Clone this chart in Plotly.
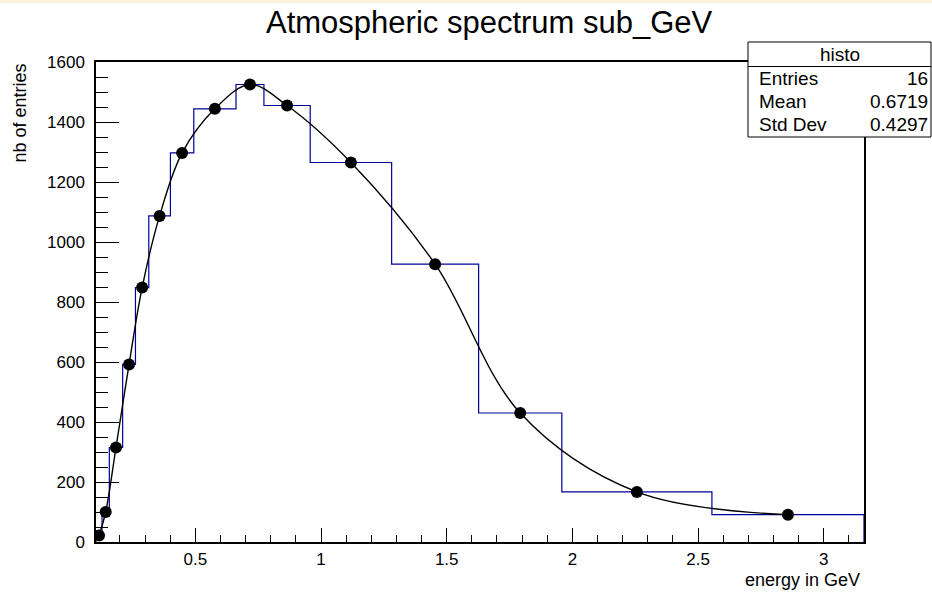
import numpy as np
import plotly.graph_objects as go

# Variable-width energy bins (GeV) and the counts in each bin
bin_edges = [0.105, 0.129, 0.158, 0.211, 0.262, 0.315, 0.401, 0.494, 0.662,
             0.773, 0.957, 1.281, 1.627, 1.958, 2.555, 3.160]
bin_counts = [22, 100, 315, 592, 848, 1087, 1297, 1444, 1525, 1455, 1265,
              926, 430, 167, 91]

# Statistics box content
stats_title = "histo"
stats_names = ["Entries", "Mean", "Std Dev"]
stats_values = ["16", "0.6719", "0.4297"]

x_tick_vals = [0.5, 1, 1.5, 2, 2.5, 3]
x_tick_text = ["0.5", "1", "1.5", "2", "2.5", "3"]
y_tick_vals = [0, 200, 400, 600, 800, 1000, 1200, 1400, 1600]

title_text = "Atmospheric spectrum sub_GeV"
x_title = "energy in GeV"
y_title = "nb of entries"

FONT = "Liberation Sans, Arial, Helvetica, sans-serif"
W, H = 932, 592
ML, MR, MT, MB = 96, 68, 62, 50
PW, PH = W - ML - MR, H - MT - MB


def px(xp):
    """pixel column -> paper x"""
    return (xp - ML) / PW


def py(yp):
    """pixel row -> paper y"""
    return (H - MB - yp) / PH


edges = np.array(bin_edges)
counts = np.array(bin_counts, dtype=float)
centers = 0.5 * (edges[:-1] + edges[1:])

# Step outline of the histogram
step_x = np.repeat(edges, 2)
step_y = np.concatenate([[0.0], np.repeat(counts, 2), [0.0]])

fig = go.Figure()
fig.add_trace(go.Scatter(
    x=step_x, y=step_y, mode="lines",
    line=dict(color="#000099", width=1.2),
    hoverinfo="skip", showlegend=False,
))
fig.add_trace(go.Scatter(
    x=centers, y=counts, mode="lines",
    line=dict(color="black", width=1.4, shape="spline", smoothing=1.0),
    showlegend=False,
))
fig.add_trace(go.Scatter(
    x=centers, y=counts, mode="markers",
    marker=dict(color="black", size=12),
    showlegend=False,
))

fig.update_xaxes(
    range=[bin_edges[0], bin_edges[-1]],
    showgrid=False, zeroline=False,
    showline=True, linecolor="black", linewidth=1.5, mirror=True,
    ticks="inside", ticklen=14, tickwidth=1, tickcolor="black",
    tickvals=x_tick_vals, ticktext=x_tick_text,
    tickfont=dict(family=FONT, size=17, color="black"),
    ticklabelstandoff=1,
    minor=dict(ticks="inside", ticklen=7, tickwidth=1, tickcolor="black",
               dtick=0.1, tick0=0, showgrid=False),
)
fig.update_yaxes(
    range=[0, 1600],
    showgrid=False, zeroline=False,
    showline=True, linecolor="black", linewidth=1.5, mirror=True,
    ticks="inside", ticklen=23, tickwidth=1, tickcolor="black",
    tickvals=y_tick_vals,
    tickfont=dict(family=FONT, size=17, color="black"),
    ticklabelstandoff=6,
    minor=dict(ticks="inside", ticklen=12, tickwidth=1, tickcolor="black",
               dtick=50, tick0=0, showgrid=False),
)

shapes = [
    # thin cream strip along the top edge of the canvas
    dict(type="rect", xref="paper", yref="paper",
         x0=px(0), x1=px(W), y0=py(3), y1=py(0),
         fillcolor="#FCF2DC", line=dict(width=0), layer="above"),
    # statistics box
    dict(type="rect", xref="paper", yref="paper",
         x0=px(748), x1=px(931), y0=py(137), y1=py(42),
         fillcolor="white", line=dict(color="black", width=1), layer="above"),
    dict(type="line", xref="paper", yref="paper",
         x0=px(748), x1=px(931), y0=py(66.5), y1=py(66.5),
         line=dict(color="black", width=1), layer="above"),
]

annotations = [
    dict(text=title_text, xref="paper", yref="paper",
         x=px(489), y=py(22), xanchor="center", yanchor="middle",
         showarrow=False, font=dict(family=FONT, size=31, color="black")),
    dict(text=x_title, xref="paper", yref="paper",
         x=px(862), y=py(579.5), xanchor="right", yanchor="middle",
         showarrow=False, font=dict(family=FONT, size=18, color="black")),
    dict(text=y_title, xref="paper", yref="paper", textangle=-90,
         x=px(19), y=py(62), xanchor="center", yanchor="top",
         showarrow=False, font=dict(family=FONT, size=18, color="black")),
    dict(text=stats_title, xref="paper", yref="paper",
         x=px(839.5), y=py(55), xanchor="center", yanchor="middle",
         showarrow=False, font=dict(family=FONT, size=19, color="black")),
]
row_y = [78, 101.5, 125]
for name, val, ry in zip(stats_names, stats_values, row_y):
    annotations.append(dict(
        text=name, xref="paper", yref="paper", x=px(757), y=py(ry),
        xanchor="left", yanchor="middle", showarrow=False,
        font=dict(family=FONT, size=19, color="black")))
    annotations.append(dict(
        text=val, xref="paper", yref="paper", x=px(930), y=py(ry),
        xanchor="right", yanchor="middle", showarrow=False,
        font=dict(family=FONT, size=19, color="black")))

fig.update_layout(
    width=W, height=H,
    margin=dict(l=ML, r=MR, t=MT, b=MB, pad=0),
    paper_bgcolor="white", plot_bgcolor="white",
    shapes=shapes, annotations=annotations,
    showlegend=False,
)

fig.write_html("out.html", config={"displayModeBar": False})
